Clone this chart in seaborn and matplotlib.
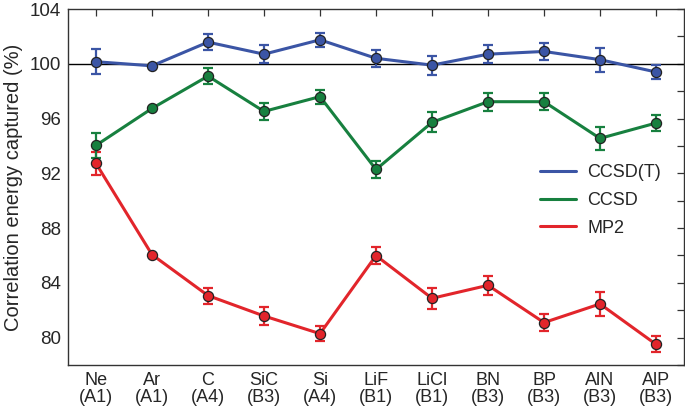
import numpy as np
import pandas as pd
import matplotlib
matplotlib.use("Agg")
import matplotlib.pyplot as plt
import seaborn as sns
from matplotlib.ticker import MultipleLocator
from matplotlib.lines import Line2D

categories = ["Ne\n(A1)", "Ar\n(A1)", "C\n(A4)", "SiC\n(B3)", "Si\n(A4)", "LiF\n(B1)",
              "LiCl\n(B1)", "BN\n(B3)", "BP\n(B3)", "AlN\n(B3)", "AlP\n(B3)"]
ccsdt = [100.15, 99.85, 101.58, 100.70, 101.75, 100.40, 99.90, 100.70, 100.90, 100.30, 99.40]
ccsdt_err = [0.90, 0.0, 0.57, 0.65, 0.50, 0.60, 0.70, 0.65, 0.60, 0.87, 0.50]
ccsd = [94.04, 96.74, 99.10, 96.52, 97.60, 92.28, 95.72, 97.23, 97.23, 94.55, 95.67]
ccsd_err = [0.90, 0.0, 0.57, 0.63, 0.52, 0.63, 0.73, 0.67, 0.60, 0.85, 0.56]
mp2 = [92.72, 86.06, 83.07, 81.58, 80.29, 85.99, 82.87, 83.82, 81.10, 82.46, 79.51]
mp2_err = [0.85, 0.0, 0.58, 0.65, 0.53, 0.65, 0.75, 0.68, 0.60, 0.90, 0.58]
series = ["CCSD(T)", "CCSD", "MP2"]
colors = ["#3b55a5", "#17803f", "#e2252b"]

sns.set_theme(style="white")
plt.rcParams["font.family"] = ["Liberation Sans", "DejaVu Sans"]

x = np.arange(len(categories))
df = pd.DataFrame({
    "x": np.concatenate([x, x, x]),
    "value": ccsdt + ccsd + mp2,
    "err": ccsdt_err + ccsd_err + mp2_err,
    "method": [series[0]] * len(x) + [series[1]] * len(x) + [series[2]] * len(x),
})

fig = plt.figure(figsize=(6.85, 4.08), dpi=100)
ax = fig.add_axes([68 / 685, 1 - 365 / 408, 616 / 685, 356 / 408])

ax.axhline(100, color="black", lw=1.0, zorder=1)

pal = dict(zip(series, colors))
for name in series[::-1]:
    sub = df[df["method"] == name]
    ax.errorbar(sub["x"], sub["value"], yerr=sub["err"], fmt="none",
                ecolor=pal[name], elinewidth=1.6, capsize=3.5, capthick=1.6, zorder=2)
sns.lineplot(data=df, x="x", y="value", hue="method", palette=pal, hue_order=series[::-1],
             marker="o", markersize=7.3, markeredgecolor="#222222", markeredgewidth=0.9,
             linewidth=2.2, ax=ax, legend=False, zorder=3)

ax.set_xlim(-0.5, len(categories) - 0.5)
ax.set_ylim(78, 104)
ax.set_xticks(x)
ax.set_xticklabels(categories, fontsize=13, linespacing=1.0)
ax.yaxis.set_major_locator(MultipleLocator(4))
ax.yaxis.set_minor_locator(MultipleLocator(2))
ax.tick_params(axis="y", which="major", labelsize=13.5)
ax.tick_params(which="both", direction="in", top=True, right=True, length=5, width=0.9,
               color="#333333", pad=5)
ax.tick_params(axis="y", which="minor", length=5, width=0.9)
ax.set_xlabel("")
ax.set_ylabel("Correlation energy captured (%)", fontsize=14.5, labelpad=5)
for s in ax.spines.values():
    s.set_color("#333333")
    s.set_linewidth(1.0)

handles = [Line2D([0], [0], color=c, lw=2.2) for c in colors]
ax.legend(handles, series, loc="upper left", bbox_to_anchor=(0.74, 0.61), frameon=False,
          fontsize=13, handlelength=2.0, handletextpad=0.6, labelspacing=0.6)

fig.savefig("out.png", dpi=100)
